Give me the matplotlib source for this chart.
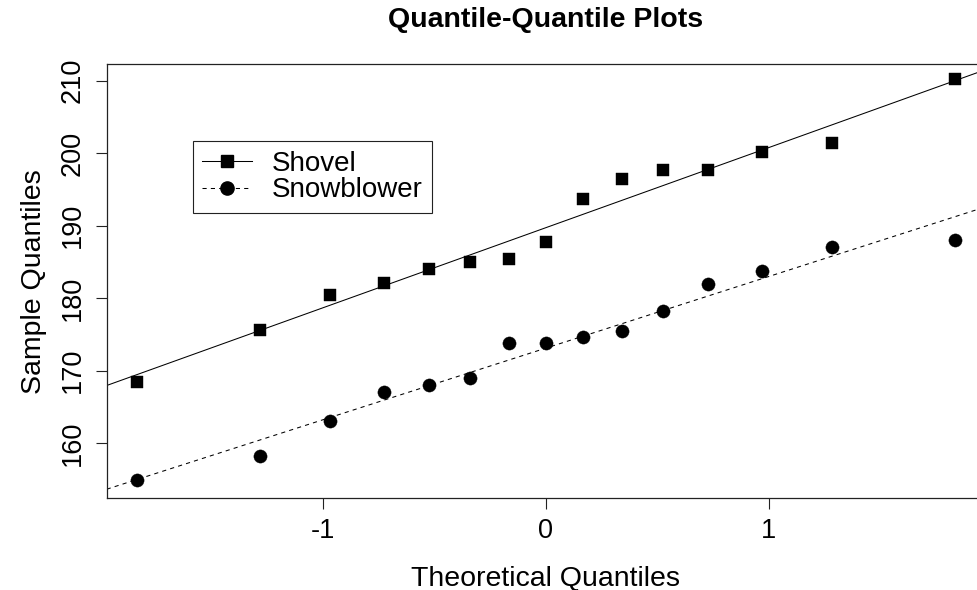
import numpy as np
import matplotlib
matplotlib.use("Agg")
import matplotlib.pyplot as plt
from statistics import NormalDist

plt.rcParams['font.family'] = ['Liberation Sans', 'DejaVu Sans']

# Sample values
shovel = [168.5, 175.6, 180.5, 182.1, 184.0, 185.0, 185.4, 187.7,
          193.7, 196.4, 197.7, 197.7, 200.1, 201.4, 210.2]
snowblower = [154.9, 158.2, 163.0, 167.1, 168.0, 169.0, 173.8, 173.8,
              174.6, 175.5, 178.2, 182.0, 183.7, 187.0, 188.0]
series_names = ["Shovel", "Snowblower"]
x_ticks = [-1, 0, 1]
y_ticks = [160, 170, 180, 190, 200, 210]


def theo_quantiles(n):
    # same plotting positions as R's ppoints for n > 10
    return np.array([NormalDist().inv_cdf((i - 0.5) / n) for i in range(1, n + 1)])


fig = plt.figure(figsize=(9.77, 5.90), dpi=100)
ax = fig.add_axes([0.1092, 0.1554, 0.8993, 0.7361])

ax.set_xlim(-1.97, 1.97)
ax.set_ylim(152.4, 212.3)

styles = [dict(marker='s', ms=9, ls='-'), dict(marker='o', ms=9.5, ls=(0, (4, 4)))]

for vals, name, st in zip([shovel, snowblower], series_names, styles):
    y = np.sort(np.array(vals))
    x = theo_quantiles(len(y))
    slope, icpt = np.polyfit(x, y, 1)
    # points
    ax.plot(x, y, ls='none', marker=st['marker'], ms=st['ms'], color='black',
            mec='black', mew=0.3)
    # fitted reference line across the panel
    xl = np.array(ax.get_xlim())
    ax.plot(xl, icpt + slope * xl, ls=st['ls'], lw=0.75, color='black')
    # legend proxy
    ax.plot([], [], ls=st['ls'], lw=0.75, color='black', marker=st['marker'],
            ms=st['ms'], label=name)

ax.set_xlim(-1.97, 1.97)

for sp in ax.spines.values():
    sp.set_linewidth(0.9)
    sp.set_color('#222222')

ax.set_xticks(x_ticks)
ax.set_xticklabels([str(t) for t in x_ticks])
ax.set_yticks(y_ticks)
ax.set_yticklabels([str(t) for t in y_ticks], rotation=90, va='center')
ax.tick_params(axis='both', direction='out', length=8, width=0.8, labelsize=19.5,
               color='#222222')
ax.tick_params(axis='x', pad=6)
ax.tick_params(axis='y', pad=7)

ax.set_xlabel("Theoretical Quantiles", fontsize=20.5, va='center')
ax.xaxis.set_label_coords(0.5, -0.185)
ax.set_ylabel("Sample Quantiles", fontsize=20.5, va='center')
ax.yaxis.set_label_coords(-0.0825, 0.5)

fig.text(546 / 977, 1 - 20 / 590, "Quantile-Quantile Plots", ha='center', va='center',
         fontsize=20.5, fontweight='bold')

leg = ax.legend(loc='upper left', bbox_to_anchor=(192.7 / 977, 1 - 141 / 590),
                bbox_transform=fig.transFigure, borderaxespad=0, fancybox=False,
                edgecolor='#222222', fontsize=20, handlelength=1.8, handletextpad=0.7,
                borderpad=0.35, labelspacing=0.02, numpoints=1, framealpha=1)
leg.get_frame().set_linewidth(0.8)

fig.savefig("out.png", dpi=100)
